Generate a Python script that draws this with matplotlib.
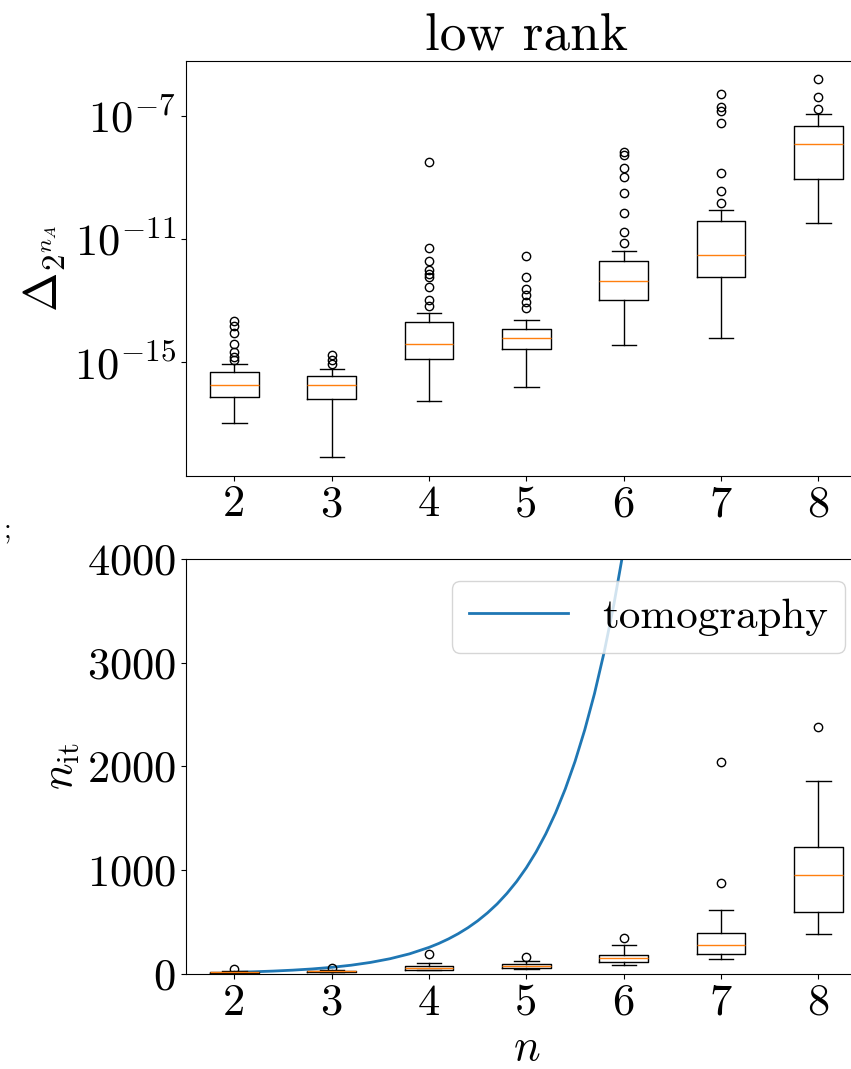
# low rank: reconstruction error and iteration count vs number of qubits
import matplotlib
matplotlib.use("Agg")
import numpy as np
import matplotlib.pyplot as plt

plt.rcParams["font.family"] = "serif"
plt.rcParams["font.serif"] = ["cmr10"]
plt.rcParams["mathtext.fontset"] = "cm"
plt.rcParams["axes.formatter.use_mathtext"] = True
plt.rcParams["font.size"] = 32

n_values = [2, 3, 4, 5, 6, 7, 8]

# top panel, read as log10 of Delta
err_med = [-15.75, -15.75, -14.42, -14.21, -12.36, -11.52, -7.92]
err_q1 = [-16.13, -16.20, -14.89, -14.57, -12.98, -12.24, -9.05]
err_q3 = [-15.33, -15.46, -13.70, -13.93, -11.71, -10.40, -7.32]
err_lo = [-16.97, -18.08, -16.27, -15.80, -14.44, -14.21, -10.48]
err_hi = [-15.07, -15.23, -13.40, -13.63, -11.39, -10.06, -6.93]
err_fliers = [
    [-14.93, -14.84, -14.67, -14.41, -14.06, -13.83, -13.67],
    [-14.77, -14.93, -15.07],
    [-8.49, -11.30, -11.72, -12.01, -12.14, -12.25, -12.57, -12.98, -13.18],
    [-11.56, -12.24, -12.62, -12.82, -13.04, -13.25],
    [-8.16, -8.27, -8.68, -8.99, -9.49, -10.16, -10.78, -11.14],
    [-6.28, -6.72, -6.85, -7.22, -8.84, -9.44, -9.84],
    [-5.81, -6.39, -6.77],
]

# bottom panel, number of iterations
it_med = [17, 26, 61, 77, 151, 282, 957]
it_q1 = [12, 20, 41, 58, 119, 193, 595]
it_q3 = [22, 30, 77, 93, 186, 392, 1224]
it_lo = [8, 15, 36, 45, 87, 142, 388]
it_hi = [30, 40, 109, 128, 277, 617, 1860]
it_fliers = [[45], [55], [193], [161], [350], [877, 2043], [2381]]

# tomography curve
tomo_n = [2.0, 2.2, 2.4, 2.6, 2.8, 3.0, 3.2, 3.4, 3.6, 3.8, 4.0,
          4.1, 4.2, 4.3, 4.4, 4.5, 4.6, 4.7, 4.8, 4.9, 5.0,
          5.1, 5.2, 5.3, 5.4, 5.5, 5.6, 5.7, 5.8, 5.9, 6.0, 6.1, 6.2]
tomo_it = [16, 21.1, 27.9, 36.8, 48.5, 64, 84.4, 111.4, 147.0, 194.0, 256,
           294, 337.8, 388, 445.7, 512, 588.1, 675, 776.0, 891, 1024,
           1176, 1351, 1552, 1783, 2048, 2353, 2702, 3104, 3566, 4096, 4705, 5405]


def make_stats(med, q1, q3, lo, hi, fl, log=False):
    f = (lambda v: 10.0 ** np.asarray(v)) if log else np.asarray
    stats = []
    for i in range(len(med)):
        stats.append(dict(med=f(med[i]), q1=f(q1[i]), q3=f(q3[i]),
                          whislo=f(lo[i]), whishi=f(hi[i]),
                          fliers=f(fl[i])))
    return stats


fig = plt.figure(figsize=(8.51, 10.69), dpi=100)
ax1 = fig.add_axes([0.2182, 0.555, 0.8006, 0.3882])
ax2 = fig.add_axes([0.2182, 0.0889, 0.8006, 0.3882])

ax1.bxp(make_stats(err_med, err_q1, err_q3, err_lo, err_hi, err_fliers, log=True),
        positions=n_values)
ax1.set_yscale("log")
ax1.set_ylim(10 ** -18.7, 10 ** -5.2)
ax1.set_yticks([1e-15, 1e-11, 1e-7])
ax1.minorticks_off()
ax1.set_xlim(1.5, 8.5)
ax1.set_xticks(n_values)
ax1.set_xticklabels([str(v) for v in n_values])
ax1.set_ylabel(r"$\Delta_{2^{n_A}}$", fontsize=34)
ax1.set_title("low rank", fontsize=38.4)

ax2.plot(tomo_n, tomo_it, color="C0", lw=2, label="tomography")
ax2.bxp(make_stats(it_med, it_q1, it_q3, it_lo, it_hi, it_fliers),
        positions=n_values)
ax2.set_ylim(0, 4000)
ax2.set_yticks([0, 1000, 2000, 3000, 4000])
ax2.set_xlim(1.5, 8.5)
ax2.set_xticks(n_values)
ax2.set_xticklabels([str(v) for v in n_values])
ax2.set_ylabel(r"$n_{\mathrm{it}}$")
ax2.set_xlabel(r"$n$")
ax2.legend(loc="upper right", handlelength=2.3, fontsize=31)

fig.text(0.004, 0.497, ";", fontsize=20)

fig.savefig("out.png", dpi=100)
